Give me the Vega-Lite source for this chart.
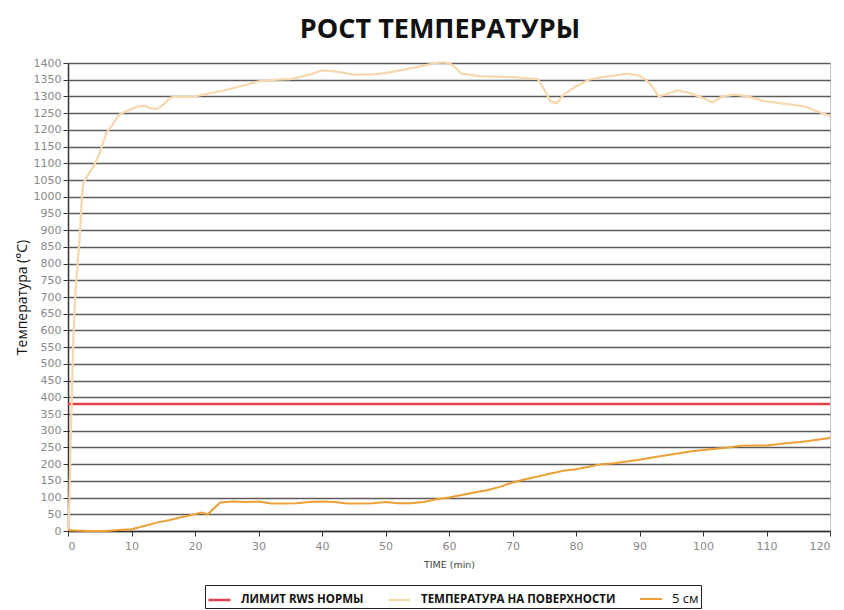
{
 "$schema": "https://vega.github.io/schema/vega-lite/v6.json",
 "width": 762, "height": 468,
 "autosize": {"type": "none"},
 "padding": {"left": 68, "top": 63, "right": 14, "bottom": 79},
 "background": "white",
 "config": {"view": {"stroke": "#c8c8c8", "strokeWidth": 1}},
 "title": {"text": "РОСТ ТЕМПЕРАТУРЫ", "font": "Open Sans", "fontSize": 27, "fontWeight": "bold", "color": "#111", "anchor": "middle", "offset": 13, "dx": -9},
 "data": {"values": [
  {"series": "ЛИМИТ RWS НОРМЫ", "t": 0, "T": 380},
  {"series": "ЛИМИТ RWS НОРМЫ", "t": 120, "T": 380},
  {"series": "ТЕМПЕРАТУРА НА ПОВЕРХНОСТИ", "t": 0, "T": 0},
  {"series": "ТЕМПЕРАТУРА НА ПОВЕРХНОСТИ", "t": 0.2, "T": 80},
  {"series": "ТЕМПЕРАТУРА НА ПОВЕРХНОСТИ", "t": 0.4, "T": 250},
  {"series": "ТЕМПЕРАТУРА НА ПОВЕРХНОСТИ", "t": 0.6, "T": 400},
  {"series": "ТЕМПЕРАТУРА НА ПОВЕРХНОСТИ", "t": 0.8, "T": 550},
  {"series": "ТЕМПЕРАТУРА НА ПОВЕРХНОСТИ", "t": 1.0, "T": 650},
  {"series": "ТЕМПЕРАТУРА НА ПОВЕРХНОСТИ", "t": 1.2, "T": 720},
  {"series": "ТЕМПЕРАТУРА НА ПОВЕРХНОСТИ", "t": 1.5, "T": 800},
  {"series": "ТЕМПЕРАТУРА НА ПОВЕРХНОСТИ", "t": 1.8, "T": 870},
  {"series": "ТЕМПЕРАТУРА НА ПОВЕРХНОСТИ", "t": 2.0, "T": 930},
  {"series": "ТЕМПЕРАТУРА НА ПОВЕРХНОСТИ", "t": 2.2, "T": 1000},
  {"series": "ТЕМПЕРАТУРА НА ПОВЕРХНОСТИ", "t": 2.4, "T": 1040},
  {"series": "ТЕМПЕРАТУРА НА ПОВЕРХНОСТИ", "t": 3, "T": 1060},
  {"series": "ТЕМПЕРАТУРА НА ПОВЕРХНОСТИ", "t": 4, "T": 1090},
  {"series": "ТЕМПЕРАТУРА НА ПОВЕРХНОСТИ", "t": 5, "T": 1130},
  {"series": "ТЕМПЕРАТУРА НА ПОВЕРХНОСТИ", "t": 6, "T": 1190},
  {"series": "ТЕМПЕРАТУРА НА ПОВЕРХНОСТИ", "t": 7, "T": 1215},
  {"series": "ТЕМПЕРАТУРА НА ПОВЕРХНОСТИ", "t": 8, "T": 1245},
  {"series": "ТЕМПЕРАТУРА НА ПОВЕРХНОСТИ", "t": 9, "T": 1255},
  {"series": "ТЕМПЕРАТУРА НА ПОВЕРХНОСТИ", "t": 10, "T": 1262},
  {"series": "ТЕМПЕРАТУРА НА ПОВЕРХНОСТИ", "t": 11, "T": 1270},
  {"series": "ТЕМПЕРАТУРА НА ПОВЕРХНОСТИ", "t": 12, "T": 1272},
  {"series": "ТЕМПЕРАТУРА НА ПОВЕРХНОСТИ", "t": 13, "T": 1265},
  {"series": "ТЕМПЕРАТУРА НА ПОВЕРХНОСТИ", "t": 14, "T": 1262},
  {"series": "ТЕМПЕРАТУРА НА ПОВЕРХНОСТИ", "t": 15, "T": 1275},
  {"series": "ТЕМПЕРАТУРА НА ПОВЕРХНОСТИ", "t": 16, "T": 1295},
  {"series": "ТЕМПЕРАТУРА НА ПОВЕРХНОСТИ", "t": 17, "T": 1300},
  {"series": "ТЕМПЕРАТУРА НА ПОВЕРХНОСТИ", "t": 18, "T": 1298},
  {"series": "ТЕМПЕРАТУРА НА ПОВЕРХНОСТИ", "t": 20, "T": 1300},
  {"series": "ТЕМПЕРАТУРА НА ПОВЕРХНОСТИ", "t": 22, "T": 1308},
  {"series": "ТЕМПЕРАТУРА НА ПОВЕРХНОСТИ", "t": 25, "T": 1320},
  {"series": "ТЕМПЕРАТУРА НА ПОВЕРХНОСТИ", "t": 28, "T": 1335},
  {"series": "ТЕМПЕРАТУРА НА ПОВЕРХНОСТИ", "t": 30, "T": 1345},
  {"series": "ТЕМПЕРАТУРА НА ПОВЕРХНОСТИ", "t": 33, "T": 1350},
  {"series": "ТЕМПЕРАТУРА НА ПОВЕРХНОСТИ", "t": 35, "T": 1352},
  {"series": "ТЕМПЕРАТУРА НА ПОВЕРХНОСТИ", "t": 38, "T": 1365},
  {"series": "ТЕМПЕРАТУРА НА ПОВЕРХНОСТИ", "t": 40, "T": 1378},
  {"series": "ТЕМПЕРАТУРА НА ПОВЕРХНОСТИ", "t": 42, "T": 1375},
  {"series": "ТЕМПЕРАТУРА НА ПОВЕРХНОСТИ", "t": 45, "T": 1365},
  {"series": "ТЕМПЕРАТУРА НА ПОВЕРХНОСТИ", "t": 48, "T": 1366},
  {"series": "ТЕМПЕРАТУРА НА ПОВЕРХНОСТИ", "t": 50, "T": 1370},
  {"series": "ТЕМПЕРАТУРА НА ПОВЕРХНОСТИ", "t": 53, "T": 1380},
  {"series": "ТЕМПЕРАТУРА НА ПОВЕРХНОСТИ", "t": 56, "T": 1392},
  {"series": "ТЕМПЕРАТУРА НА ПОВЕРХНОСТИ", "t": 58, "T": 1400},
  {"series": "ТЕМПЕРАТУРА НА ПОВЕРХНОСТИ", "t": 59.5, "T": 1402},
  {"series": "ТЕМПЕРАТУРА НА ПОВЕРХНОСТИ", "t": 60.5, "T": 1395},
  {"series": "ТЕМПЕРАТУРА НА ПОВЕРХНОСТИ", "t": 62, "T": 1368},
  {"series": "ТЕМПЕРАТУРА НА ПОВЕРХНОСТИ", "t": 65, "T": 1360},
  {"series": "ТЕМПЕРАТУРА НА ПОВЕРХНОСТИ", "t": 70, "T": 1358},
  {"series": "ТЕМПЕРАТУРА НА ПОВЕРХНОСТИ", "t": 74, "T": 1352},
  {"series": "ТЕМПЕРАТУРА НА ПОВЕРХНОСТИ", "t": 75, "T": 1320},
  {"series": "ТЕМПЕРАТУРА НА ПОВЕРХНОСТИ", "t": 76, "T": 1285},
  {"series": "ТЕМПЕРАТУРА НА ПОВЕРХНОСТИ", "t": 77, "T": 1280},
  {"series": "ТЕМПЕРАТУРА НА ПОВЕРХНОСТИ", "t": 78, "T": 1305},
  {"series": "ТЕМПЕРАТУРА НА ПОВЕРХНОСТИ", "t": 80, "T": 1330},
  {"series": "ТЕМПЕРАТУРА НА ПОВЕРХНОСТИ", "t": 82, "T": 1350},
  {"series": "ТЕМПЕРАТУРА НА ПОВЕРХНОСТИ", "t": 84, "T": 1358},
  {"series": "ТЕМПЕРАТУРА НА ПОВЕРХНОСТИ", "t": 86, "T": 1362},
  {"series": "ТЕМПЕРАТУРА НА ПОВЕРХНОСТИ", "t": 88, "T": 1368},
  {"series": "ТЕМПЕРАТУРА НА ПОВЕРХНОСТИ", "t": 90, "T": 1362},
  {"series": "ТЕМПЕРАТУРА НА ПОВЕРХНОСТИ", "t": 91, "T": 1350},
  {"series": "ТЕМПЕРАТУРА НА ПОВЕРХНОСТИ", "t": 92, "T": 1330},
  {"series": "ТЕМПЕРАТУРА НА ПОВЕРХНОСТИ", "t": 93, "T": 1300},
  {"series": "ТЕМПЕРАТУРА НА ПОВЕРХНОСТИ", "t": 94, "T": 1305},
  {"series": "ТЕМПЕРАТУРА НА ПОВЕРХНОСТИ", "t": 96, "T": 1318},
  {"series": "ТЕМПЕРАТУРА НА ПОВЕРХНОСТИ", "t": 98, "T": 1310},
  {"series": "ТЕМПЕРАТУРА НА ПОВЕРХНОСТИ", "t": 100, "T": 1295},
  {"series": "ТЕМПЕРАТУРА НА ПОВЕРХНОСТИ", "t": 101.5, "T": 1282},
  {"series": "ТЕМПЕРАТУРА НА ПОВЕРХНОСТИ", "t": 103, "T": 1300},
  {"series": "ТЕМПЕРАТУРА НА ПОВЕРХНОСТИ", "t": 105, "T": 1305},
  {"series": "ТЕМПЕРАТУРА НА ПОВЕРХНОСТИ", "t": 107, "T": 1300},
  {"series": "ТЕМПЕРАТУРА НА ПОВЕРХНОСТИ", "t": 108.5, "T": 1292},
  {"series": "ТЕМПЕРАТУРА НА ПОВЕРХНОСТИ", "t": 110, "T": 1285},
  {"series": "ТЕМПЕРАТУРА НА ПОВЕРХНОСТИ", "t": 113, "T": 1278},
  {"series": "ТЕМПЕРАТУРА НА ПОВЕРХНОСТИ", "t": 116, "T": 1270},
  {"series": "ТЕМПЕРАТУРА НА ПОВЕРХНОСТИ", "t": 118, "T": 1255},
  {"series": "ТЕМПЕРАТУРА НА ПОВЕРХНОСТИ", "t": 120, "T": 1242},
  {"series": "5 см", "t": 0, "T": 2},
  {"series": "5 см", "t": 3, "T": 0},
  {"series": "5 см", "t": 6, "T": 0},
  {"series": "5 см", "t": 8, "T": 3},
  {"series": "5 см", "t": 10, "T": 5},
  {"series": "5 см", "t": 12, "T": 15},
  {"series": "5 см", "t": 14, "T": 25},
  {"series": "5 см", "t": 16, "T": 33},
  {"series": "5 см", "t": 18, "T": 42},
  {"series": "5 см", "t": 20, "T": 50},
  {"series": "5 см", "t": 21, "T": 55},
  {"series": "5 см", "t": 22, "T": 50},
  {"series": "5 см", "t": 23, "T": 68},
  {"series": "5 см", "t": 24, "T": 85},
  {"series": "5 см", "t": 26, "T": 88},
  {"series": "5 см", "t": 28, "T": 87},
  {"series": "5 см", "t": 30, "T": 88},
  {"series": "5 см", "t": 32, "T": 82},
  {"series": "5 см", "t": 34, "T": 82},
  {"series": "5 см", "t": 36, "T": 83},
  {"series": "5 см", "t": 38, "T": 87},
  {"series": "5 см", "t": 40, "T": 88},
  {"series": "5 см", "t": 42, "T": 87},
  {"series": "5 см", "t": 44, "T": 82},
  {"series": "5 см", "t": 46, "T": 82},
  {"series": "5 см", "t": 48, "T": 83},
  {"series": "5 см", "t": 50, "T": 87},
  {"series": "5 см", "t": 52, "T": 83},
  {"series": "5 см", "t": 54, "T": 83},
  {"series": "5 см", "t": 56, "T": 87},
  {"series": "5 см", "t": 58, "T": 95},
  {"series": "5 см", "t": 60, "T": 100},
  {"series": "5 см", "t": 62, "T": 108},
  {"series": "5 см", "t": 64, "T": 115},
  {"series": "5 см", "t": 66, "T": 122},
  {"series": "5 см", "t": 68, "T": 132},
  {"series": "5 см", "t": 70, "T": 145},
  {"series": "5 см", "t": 72, "T": 155},
  {"series": "5 см", "t": 74, "T": 163},
  {"series": "5 см", "t": 76, "T": 172},
  {"series": "5 см", "t": 78, "T": 180},
  {"series": "5 см", "t": 80, "T": 185},
  {"series": "5 см", "t": 82, "T": 192},
  {"series": "5 см", "t": 84, "T": 200},
  {"series": "5 см", "t": 86, "T": 203},
  {"series": "5 см", "t": 88, "T": 208},
  {"series": "5 см", "t": 90, "T": 213},
  {"series": "5 см", "t": 92, "T": 220},
  {"series": "5 см", "t": 94, "T": 226},
  {"series": "5 см", "t": 96, "T": 232},
  {"series": "5 см", "t": 98, "T": 238},
  {"series": "5 см", "t": 100, "T": 242},
  {"series": "5 см", "t": 102, "T": 246},
  {"series": "5 см", "t": 104, "T": 250},
  {"series": "5 см", "t": 106, "T": 255},
  {"series": "5 см", "t": 108, "T": 256},
  {"series": "5 см", "t": 110, "T": 256},
  {"series": "5 см", "t": 112, "T": 260},
  {"series": "5 см", "t": 114, "T": 264},
  {"series": "5 см", "t": 116, "T": 268},
  {"series": "5 см", "t": 118, "T": 273},
  {"series": "5 см", "t": 120, "T": 278}
 ]},
 "mark": {"type": "line"},
 "encoding": {
  "x": {"field": "t", "type": "quantitative", "scale": {"domain": [0, 120], "nice": false},
   "axis": {"values": [0,10,20,30,40,50,60,70,80,90,100,110,120], "format": "d", "grid": false, "domainColor": "#333", "domainWidth": 1.5, "tickColor": "#333", "tickSize": 5, "labelColor": "#888", "labelFont": "DejaVu Sans", "labelFontSize": 11, "labelPadding": 4, "title": "TIME (min)", "titleFont": "DejaVu Sans", "titleFontSize": 9.5, "titleFontWeight": "normal", "titleColor": "#444", "titlePadding": 8}},
  "y": {"field": "T", "type": "quantitative", "scale": {"domain": [0, 1400], "nice": false},
   "axis": {"values": [0,50,100,150,200,250,300,350,400,450,500,550,600,650,700,750,800,850,900,950,1000,1050,1100,1150,1200,1250,1300,1350,1400], "format": "d", "grid": true, "gridColor": "#5b5b5b", "gridWidth": 1.5, "domainColor": "#333", "domainWidth": 1.5, "tickColor": "#333", "tickSize": 5, "labelColor": "#888", "labelFont": "DejaVu Sans", "labelFontSize": 11, "labelPadding": 2, "title": "Температура (°C)", "titleFont": "Open Sans", "titleFontSize": 14, "titleFontWeight": "normal", "titleColor": "#111", "titleX": -46, "titleY": 234, "titleAngle": -90, "titleBaseline": "middle", "titleAlign": "center"}},
  "color": {"field": "series", "type": "nominal",
   "scale": {"domain": ["ЛИМИТ RWS НОРМЫ", "ТЕМПЕРАТУРА НА ПОВЕРХНОСТИ", "5 см"], "range": ["#e2434b", "#f7d8ae", "#eda035"]},
   "legend": {"orient": "none", "legendX": 137, "legendY": 522, "direction": "horizontal", "title": null, "strokeColor": "#222", "fillColor": "white", "padding": 2, "symbolType": "stroke", "symbolSize": 484, "symbolStrokeWidth": 3, "labelFont": "Open Sans", "labelFontWeight": "bold", "labelFontSize": 11.5, "labelColor": "#111", "labelLimit": 0, "labelOffset": 9, "columnPadding": 20,
    "encode": {"labels": {"update": {"fontSize": {"signal": "datum.label == '5 см' ? 13 : 11.5"}, "fontWeight": {"signal": "datum.label == '5 см' ? 'normal' : 'bold'"}}}}}},
  "strokeWidth": {"field": "series", "type": "nominal", "scale": {"domain": ["ЛИМИТ RWS НОРМЫ", "ТЕМПЕРАТУРА НА ПОВЕРХНОСТИ", "5 см"], "range": [2.5, 2, 2.5]}, "legend": null}
 }
}
